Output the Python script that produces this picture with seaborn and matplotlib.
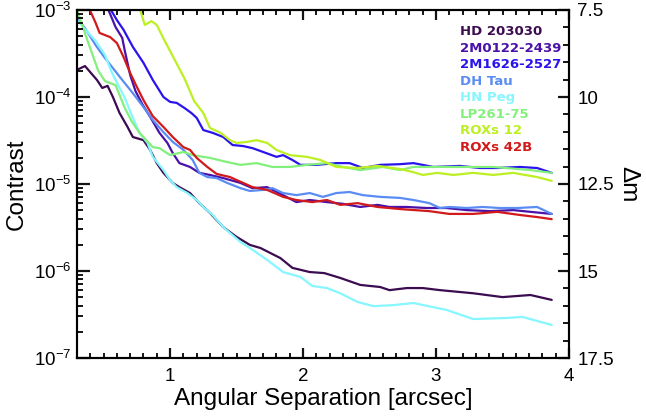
import numpy as np
import pandas as pd
import matplotlib
matplotlib.use("Agg")
import matplotlib.pyplot as plt
import matplotlib.ticker as mticker
import seaborn as sns

# ---- data: angular separation [arcsec] and Delta m (magnitude contrast) ----
names = ["HD 203030", "2M0122-2439", "2M1626-2527", "DH Tau",
         "HN Peg", "LP261-75", "ROXs 12", "ROXs 42B"]
colors = ["#3c0c50", "#4a12a8", "#2a14ee", "#5a8cf4",
          "#86f6ff", "#84f07c", "#bcf022", "#d21a1a"]

hd_sep = [0.30, 0.36, 0.45, 0.49, 0.53, 0.57, 0.62, 0.68, 0.72, 0.80, 0.85, 0.90, 0.95,
          1.02, 1.07, 1.15, 1.22, 1.30, 1.40, 1.50, 1.60, 1.68, 1.83, 1.92, 2.05, 2.16,
          2.28, 2.43, 2.58, 2.65, 2.78, 2.90, 3.03, 3.28, 3.50, 3.71, 3.87]
hd_dm = [9.22, 9.11, 9.51, 9.74, 9.68, 10.00, 10.46, 10.86, 11.15, 11.24, 11.52, 11.90, 12.18,
         12.47, 12.59, 12.76, 13.05, 13.33, 13.74, 14.02, 14.25, 14.34, 14.63, 14.91, 15.03, 15.06,
         15.20, 15.40, 15.46, 15.55, 15.49, 15.49, 15.55, 15.64, 15.75, 15.69, 15.83]

m0122_sep = [0.53, 0.59, 0.64, 0.66, 0.70, 0.74, 0.79, 0.85, 0.92, 0.98, 1.02, 1.07, 1.15,
             1.22, 1.30, 1.40, 1.53, 1.62, 1.73, 1.85, 1.95, 2.05, 2.18, 2.30, 2.43, 2.56,
             2.65, 2.78, 2.93, 3.08, 3.23, 3.41, 3.58, 3.71, 3.87]
m0122_dm = [7.44, 7.99, 8.30, 8.68, 9.37, 9.83, 10.20, 10.57, 11.03, 11.32, 11.61, 11.90, 12.01,
            12.18, 12.24, 12.33, 12.47, 12.62, 12.59, 12.82, 13.02, 12.96, 13.02, 13.07, 13.16, 13.10,
            13.16, 13.16, 13.19, 13.19, 13.25, 13.28, 13.25, 13.30, 13.36]

m1626_sep = [0.54, 0.60, 0.65, 0.72, 0.80, 0.87, 0.95, 1.00, 1.05, 1.11, 1.16, 1.20, 1.25,
             1.32, 1.40, 1.47, 1.55, 1.62, 1.70, 1.80, 1.85, 1.92, 1.98, 2.10, 2.25, 2.35,
             2.45, 2.58, 2.73, 2.83, 2.98, 3.18, 3.33, 3.46, 3.63, 3.76, 3.87]
m1626_dm = [7.40, 7.79, 8.07, 8.56, 9.02, 9.51, 10.00, 10.14, 10.17, 10.32, 10.46, 10.60, 10.95,
            11.03, 11.15, 11.38, 11.41, 11.47, 11.58, 11.72, 11.67, 11.81, 11.95, 11.95, 11.90, 11.90,
            12.04, 11.95, 11.93, 11.90, 12.01, 11.98, 12.04, 12.04, 12.01, 12.04, 12.18]

dhtau_sep = [0.30, 0.36, 0.44, 0.51, 0.57, 0.64, 0.72, 0.80, 0.87, 0.95, 1.02, 1.10, 1.17,
             1.22, 1.28, 1.35, 1.43, 1.53, 1.60, 1.70, 1.77, 1.85, 1.95, 2.05, 2.15, 2.25,
             2.35, 2.45, 2.58, 2.73, 2.83, 2.95, 3.03, 3.10, 3.23, 3.35, 3.48, 3.61, 3.76, 3.87]
dhtau_dm = [7.73, 8.02, 8.51, 8.88, 9.17, 9.51, 9.89, 10.29, 10.66, 11.01, 11.29, 11.52, 11.81,
            12.18, 12.30, 12.33, 12.47, 12.62, 12.70, 12.67, 12.62, 12.76, 12.82, 12.76, 12.87, 12.76,
            12.73, 12.82, 12.87, 12.90, 12.96, 13.05, 13.19, 13.16, 13.19, 13.16, 13.19, 13.19, 13.16, 13.36]

hnpeg_sep = [0.30, 0.44, 0.51, 0.56, 0.61, 0.66, 0.72, 0.77, 0.83, 0.87, 0.95, 1.00, 1.05,
             1.13, 1.20, 1.25, 1.32, 1.40, 1.47, 1.53, 1.60, 1.73, 1.85, 1.98, 2.07, 2.18,
             2.28, 2.41, 2.53, 2.68, 2.83, 3.08, 3.28, 3.53, 3.65, 3.87]
hnpeg_dm = [7.79, 8.39, 8.79, 9.28, 9.66, 10.03, 10.60, 11.03, 11.32, 11.72, 12.10, 12.39, 12.59,
            12.76, 12.96, 13.16, 13.39, 13.74, 13.97, 14.17, 14.34, 14.68, 15.03, 15.17, 15.43, 15.49,
            15.64, 15.89, 16.01, 15.98, 15.92, 16.12, 16.38, 16.35, 16.32, 16.55]

lp261_sep = [0.30, 0.38, 0.46, 0.51, 0.59, 0.66, 0.71, 0.77, 0.87, 0.92, 1.00, 1.10, 1.17,
             1.30, 1.43, 1.53, 1.65, 1.77, 1.90, 2.03, 2.18, 2.30, 2.43, 2.60, 2.73, 2.83,
             3.08, 3.43, 3.71, 3.87]
lp261_dm = [7.50, 8.39, 9.25, 9.54, 9.66, 10.32, 10.69, 11.03, 11.44, 11.47, 11.67, 11.58, 11.67,
            11.75, 11.87, 11.95, 11.90, 12.01, 12.01, 11.95, 11.90, 12.01, 12.10, 12.01, 12.10, 12.01,
            12.01, 12.01, 12.10, 12.18]

roxs12_sep = [0.77, 0.81, 0.86, 0.90, 0.96, 1.04, 1.11, 1.18, 1.25, 1.30, 1.38, 1.45, 1.50,
              1.58, 1.65, 1.73, 1.80, 1.90, 2.03, 2.13, 2.25, 2.41, 2.56, 2.73, 2.83, 2.90,
              3.01, 3.13, 3.28, 3.43, 3.58, 3.76, 3.87]
roxs12_dm = [7.44, 7.93, 7.82, 7.93, 8.39, 8.97, 9.48, 10.11, 10.46, 10.89, 11.03, 11.24, 11.32,
             11.29, 11.24, 11.32, 11.52, 11.67, 11.72, 11.81, 12.01, 12.04, 11.98, 12.07, 12.16, 12.24,
             12.18, 12.24, 12.18, 12.24, 12.18, 12.30, 12.41]

roxs42b_sep = [0.38, 0.44, 0.47, 0.55, 0.60, 0.65, 0.70, 0.75, 0.80, 0.87, 0.95, 1.02, 1.10,
               1.15, 1.20, 1.28, 1.35, 1.45, 1.55, 1.62, 1.73, 1.85, 1.95, 2.07, 2.18, 2.28,
               2.41, 2.56, 2.73, 2.95, 3.10, 3.28, 3.46, 3.63, 3.76, 3.87]
roxs42b_dm = [7.36, 7.87, 8.16, 8.28, 8.45, 8.85, 9.31, 9.71, 10.09, 10.55, 10.86, 11.15, 11.44,
              11.52, 11.75, 12.01, 12.21, 12.30, 12.47, 12.59, 12.67, 12.87, 12.96, 13.02, 12.96, 13.10,
              13.05, 13.16, 13.22, 13.28, 13.36, 13.36, 13.30, 13.39, 13.45, 13.51]

dm_ticks = [7.5, 10, 12.5, 15, 17.5]
dm_tick_labels = ["7.5", "10", "12.5", "15", "17.5"]
sep_ticks = [1, 2, 3, 4]

series = [(hd_sep, hd_dm), (m0122_sep, m0122_dm), (m1626_sep, m1626_dm), (dhtau_sep, dhtau_dm),
          (hnpeg_sep, hnpeg_dm), (lp261_sep, lp261_dm), (roxs12_sep, roxs12_dm),
          (roxs42b_sep, roxs42b_dm)]

frames = []
for name, (s, d) in zip(names, series):
    frames.append(pd.DataFrame({"sep": s, "dm": d, "target": name}))
df = pd.concat(frames, ignore_index=True)

# ---- style ----
sns.set_style("ticks")
plt.rcParams["font.family"] = ["Liberation Sans", "DejaVu Sans"]
plt.rcParams["mathtext.default"] = "regular"
plt.rcParams["axes.linewidth"] = 1.5
for k in ["text.color", "axes.labelcolor", "axes.edgecolor"]:
    plt.rcParams[k] = "black"

tick_col = "#141414"

fig = plt.figure(figsize=(6.46, 4.19), dpi=100)
ax = fig.add_axes([77 / 646, 1 - 358 / 419, 492 / 646, 348 / 419])

palette = dict(zip(names, colors))
sns.lineplot(data=df, x="sep", y="dm", hue="target", palette=palette,
             estimator=None, sort=False, lw=1.6, legend=False, ax=ax)

ax.set_xlim(0.3, 4.0)
ax.set_ylim(17.5, 7.5)

# left axis: contrast (log)
ax2 = ax.twinx()
ax2.set_yscale("log")
ax2.set_ylim(1e-7, 1e-3)
ax2.yaxis.tick_left()
ax2.yaxis.set_label_position("left")
ax2.yaxis.set_major_locator(mticker.LogLocator(base=10, numticks=10))
ax2.yaxis.set_minor_locator(mticker.LogLocator(base=10, subs=np.arange(2, 10), numticks=20))
ax2.yaxis.set_major_formatter(mticker.LogFormatterMathtext())
ax2.yaxis.set_minor_formatter(mticker.NullFormatter())
ax2.tick_params(axis="y", which="major", direction="in", length=9, width=1.6,
                left=True, right=False, labelleft=True, labelright=False,
                labelsize=13.5, pad=4, color=tick_col, labelcolor="black")
ax2.tick_params(axis="y", which="minor", direction="in", length=4.5, width=1.4,
                left=True, right=False, color=tick_col)
ax2.set_ylabel("Contrast", fontsize=17.5)
ax2.yaxis.set_label_coords(-0.10, 0.5)

# right axis: Delta m (linear)
ax.yaxis.tick_right()
ax.yaxis.set_label_position("right")
ax.set_yticks(dm_ticks)
ax.set_yticklabels(dm_tick_labels)
ax.yaxis.set_minor_locator(mticker.MultipleLocator(0.5))
ax.tick_params(axis="y", which="major", direction="in", length=8, width=1.6,
               left=False, right=True, labelleft=False, labelright=True,
               labelsize=13.5, pad=6, color=tick_col, labelcolor="black")
ax.tick_params(axis="y", which="minor", direction="in", length=4, width=1.4,
               left=False, right=True, color=tick_col)
ax.set_ylabel("Δm", rotation=-90, va="bottom", fontsize=17.5)
ax.yaxis.set_label_coords(1.098, 0.5)

# x axis
ax.set_xticks(sep_ticks)
ax.set_xticklabels([str(t) for t in sep_ticks])
ax.xaxis.set_minor_locator(mticker.MultipleLocator(0.1))
ax.set_xlabel("Angular Separation [arcsec]", fontsize=17.5)
ax.xaxis.set_label_coords(0.5, -0.085)
ax.xaxis.label.set_va("top")
ax.tick_params(axis="x", which="major", direction="in", length=7, width=1.6,
               top=True, bottom=True, labelsize=13.5, pad=7, color=tick_col,
               labelcolor="black")
ax.tick_params(axis="x", which="minor", direction="in", length=3.5, width=1.4,
               top=True, bottom=True, color=tick_col)

# colored legend text
for i, (name, c) in enumerate(zip(names, colors)):
    ax.text(0.778, 0.937 - i * 0.0474, name, color=c, transform=ax.transAxes,
            fontsize=9.5, fontweight="bold", family="DejaVu Sans",
            ha="left", va="center")

fig.savefig("out.png", dpi=100)
